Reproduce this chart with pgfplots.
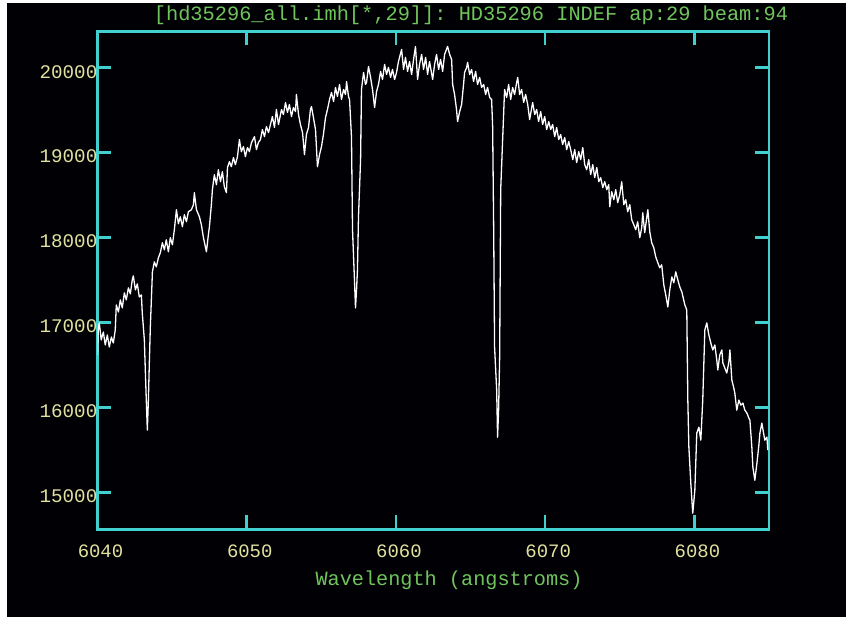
\documentclass[border=0pt]{standalone}
\usepackage{pgfplots}
\pgfplotsset{compat=1.18}
\usepackage{pgfplotstable}
\usepackage{fontspec}
\setmonofont{Liberation Mono}

\definecolor{frame}{RGB}{64,208,208}
\definecolor{ticklab}{RGB}{226,226,160}
\definecolor{labgreen}{RGB}{112,196,92}

% HD35296, aperture 29: flux versus wavelength
\pgfplotstableread{
lambda flux
6040.00 16617
6040.05 16912
6040.12 16995
6040.25 16794
6040.39 16888
6040.52 16735
6040.66 16853
6040.79 16711
6040.93 16829
6041.06 16759
6041.19 16912
6041.26 17207
6041.40 17124
6041.53 17266
6041.66 17172
6041.80 17349
6041.93 17266
6042.07 17408
6042.20 17337
6042.33 17502
6042.40 17549
6042.54 17384
6042.67 17455
6042.80 17301
6042.94 17325
6043.00 17113
6043.14 16794
6043.21 16405
6043.27 16086
6043.34 15732
6043.41 16086
6043.47 16499
6043.54 16947
6043.61 17266
6043.68 17596
6043.81 17714
6043.94 17655
6044.08 17762
6044.21 17821
6044.35 17939
6044.48 17856
6044.61 17974
6044.75 17832
6044.88 17998
6045.02 17915
6045.15 18092
6045.29 18328
6045.42 18163
6045.55 18245
6045.69 18127
6045.82 18269
6045.96 18186
6046.09 18304
6046.29 18328
6046.43 18387
6046.49 18529
6046.63 18328
6046.83 18245
6046.96 18151
6047.10 17998
6047.30 17832
6047.43 18033
6047.50 18127
6047.63 18387
6047.70 18564
6047.83 18741
6047.97 18623
6048.10 18800
6048.24 18658
6048.37 18776
6048.50 18599
6048.64 18529
6048.71 18824
6048.84 18894
6048.97 18835
6049.11 18942
6049.24 18859
6049.38 18953
6049.51 19154
6049.64 19012
6049.78 19071
6049.91 18953
6050.05 19060
6050.18 19012
6050.32 19119
6050.52 19189
6050.65 19036
6050.78 19119
6050.92 19154
6051.05 19272
6051.19 19189
6051.32 19307
6051.46 19237
6051.59 19331
6051.72 19425
6051.86 19296
6051.99 19508
6052.13 19331
6052.33 19508
6052.46 19449
6052.60 19591
6052.73 19473
6052.86 19567
6053.00 19425
6053.13 19532
6053.27 19484
6053.33 19685
6053.47 19449
6053.60 19331
6053.74 19237
6053.87 18977
6054.00 19213
6054.14 19296
6054.27 19508
6054.34 19543
6054.47 19414
6054.61 19272
6054.74 18835
6054.88 18977
6055.01 19071
6055.14 19213
6055.28 19414
6055.41 19508
6055.55 19626
6055.68 19709
6055.82 19602
6055.95 19768
6056.08 19661
6056.22 19803
6056.35 19626
6056.49 19744
6056.62 19685
6056.69 19838
6056.82 19661
6056.89 19626
6057.02 19189
6057.09 18092
6057.16 17773
6057.22 17502
6057.29 17172
6057.36 17384
6057.42 17620
6057.49 18245
6057.63 18918
6057.69 19744
6057.83 19945
6057.96 19803
6058.03 19827
6058.16 20015
6058.30 19886
6058.43 19744
6058.57 19532
6058.70 19720
6058.83 19803
6058.97 19956
6059.10 19862
6059.24 20039
6059.37 19921
6059.50 20004
6059.64 19886
6059.77 19980
6059.91 19862
6060.04 19945
6060.17 20074
6060.38 20216
6060.51 19980
6060.64 20122
6060.78 19956
6060.91 20074
6061.05 19921
6061.18 20098
6061.31 20251
6061.45 19862
6061.58 20039
6061.72 20157
6061.85 19980
6061.99 20122
6062.12 19921
6062.25 20074
6062.46 19862
6062.59 20039
6062.72 20157
6062.86 19980
6062.99 20098
6063.13 19956
6063.26 20157
6063.46 20251
6063.60 20157
6063.73 20098
6063.80 19803
6063.93 19685
6064.06 19508
6064.13 19366
6064.27 19484
6064.40 19567
6064.53 19803
6064.60 19945
6064.74 20004
6064.80 20063
6064.94 19921
6065.07 19980
6065.20 19838
6065.34 19956
6065.47 19803
6065.61 19886
6065.74 19768
6065.88 19803
6066.01 19685
6066.14 19768
6066.28 19650
6066.41 19626
6066.48 19307
6066.55 18092
6066.61 16711
6066.75 16204
6066.81 15649
6066.88 15968
6066.95 16593
6067.02 18564
6067.15 19154
6067.28 19744
6067.42 19650
6067.55 19803
6067.69 19626
6067.82 19768
6067.95 19685
6068.09 19827
6068.16 19886
6068.29 19685
6068.42 19744
6068.56 19591
6068.69 19685
6068.83 19567
6068.96 19390
6069.10 19532
6069.16 19591
6069.30 19449
6069.43 19508
6069.56 19366
6069.70 19484
6069.83 19331
6069.97 19425
6070.10 19272
6070.24 19366
6070.37 19272
6070.50 19331
6070.64 19189
6070.77 19296
6070.91 19154
6071.04 19213
6071.17 19095
6071.31 19178
6071.44 19036
6071.58 19130
6071.71 19036
6071.85 18918
6071.98 19036
6072.11 18883
6072.25 19012
6072.38 18918
6072.52 19060
6072.65 18859
6072.78 18800
6072.92 18918
6073.05 18741
6073.19 18859
6073.32 18706
6073.46 18824
6073.59 18658
6073.72 18706
6073.86 18588
6073.99 18658
6074.13 18564
6074.26 18623
6074.33 18363
6074.46 18540
6074.60 18446
6074.73 18564
6074.86 18411
6075.00 18505
6075.13 18658
6075.27 18387
6075.40 18446
6075.53 18304
6075.67 18387
6075.80 18210
6075.94 18151
6076.07 18092
6076.20 18186
6076.34 17998
6076.47 18116
6076.54 18293
6076.67 18057
6076.88 18328
6077.01 18068
6077.14 17939
6077.28 17880
6077.41 17773
6077.55 17703
6077.68 17644
6077.81 17679
6077.95 17443
6078.08 17325
6078.22 17183
6078.35 17384
6078.49 17537
6078.62 17467
6078.75 17596
6078.89 17502
6079.02 17419
6079.16 17360
6079.36 17207
6079.49 17148
6079.56 16086
6079.63 15531
6079.76 15107
6079.89 14753
6080.03 15024
6080.16 15697
6080.30 15767
6080.43 15614
6080.56 16086
6080.70 16912
6080.83 16995
6080.97 16853
6081.10 16759
6081.23 16676
6081.37 16735
6081.50 16558
6081.57 16440
6081.70 16617
6081.84 16676
6081.91 16523
6082.04 16464
6082.17 16405
6082.31 16534
6082.38 16676
6082.51 16322
6082.64 16228
6082.71 16169
6082.84 15968
6082.98 16086
6083.11 16027
6083.25 16051
6083.38 15968
6083.52 15933
6083.65 15874
6083.72 15850
6083.85 15531
6083.92 15295
6084.05 15142
6084.19 15343
6084.32 15555
6084.39 15697
6084.52 15815
6084.66 15673
6084.72 15614
6084.86 15650
6084.92 15496
}\spectrum

\begin{document}
\begin{tikzpicture}
\useasboundingbox (0bp,0bp) rectangle (846bp,617bp);
\fill[white] (0bp,0bp) rectangle (846bp,617bp);
\fill[black!98!blue] (7bp,0bp) rectangle (846bp,614bp);

\begin{axis}[
  at={(97.5bp,87.5bp)}, anchor=south west,
  scale only axis, width=671.5bp, height=498bp,
  xmin=6040, xmax=6085, ymin=14562, ymax=20427,
  axis line style={frame, line width=2.6bp},
  every tick/.style={frame, line width=2.6bp},
  major tick length=14bp, tick align=inside,
  xtick={6040,6050,6060,6070,6080},
  ytick={15000,16000,17000,18000,19000,20000},
  scaled x ticks=false, scaled y ticks=false,
  minor tick num=0,
  /pgf/number format/.cd, fixed, precision=0, 1000 sep={}, assume math mode=true,
  /pgfplots/.cd,
  xticklabel style={font=\ttfamily\fontsize{19}{20}\selectfont, text=ticklab,
    anchor=north, inner sep=0pt, xshift=3bp, yshift=-15bp},
  yticklabel style={font=\ttfamily\fontsize{19.3}{20}\selectfont, text=ticklab,
    anchor=east, inner sep=0pt, xshift=0bp, yshift=-4bp},
  clip=true,
]
\addplot[white, line width=1.3bp, line join=round] table[x=lambda, y=flux] {\spectrum};
\end{axis}

\node[text=labgreen, font=\ttfamily\fontsize{20.4}{22}\selectfont, inner sep=0pt]
  at (471bp,602bp) {[hd35296\_all.imh[*,29]]: HD35296 INDEF ap:29 beam:94};
\node[text=labgreen, font=\ttfamily\fontsize{20.3}{22}\selectfont, inner sep=0pt]
  at (449bp,37bp) {Wavelength (angstroms)};
\end{tikzpicture}
\end{document}
